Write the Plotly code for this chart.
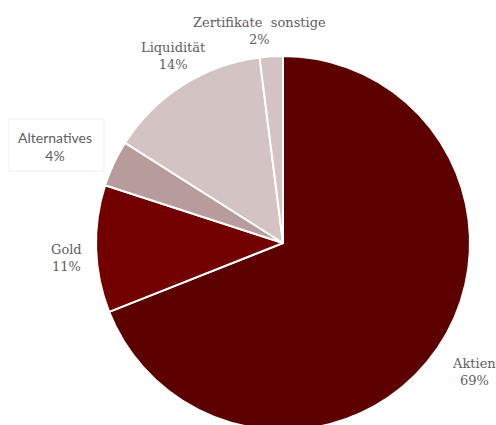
import plotly.graph_objects as go

# Asset allocation shares (percent)
categories = ["Aktien", "Gold", "Alternatives", "Liquidität", "Zertifikate  sonstige"]
shares = [69, 11, 4, 14, 2]
slice_colors = ["#5c0000", "#720000", "#b89b9b", "#d3c3c3", "#d3c3c3"]

W, H = 496, 440

fig = go.Figure(go.Pie(
    labels=categories,
    values=shares,
    sort=False,
    direction="clockwise",
    rotation=0,
    marker=dict(colors=slice_colors, line=dict(color="white", width=2)),
    textinfo="none",
    hoverinfo="label+percent",
    showlegend=False,
    domain=dict(x=[96 / W, 470 / W], y=[10 / H, (H - 56) / H]),
))

# label positions in pixels (center of text block)
label_pos = {
    "Aktien": (474, 372),
    "Gold": (66, 258),
    "Alternatives": (55, 146),
    "Liquidität": (173, 56),
    "Zertifikate  sonstige": (259, 31),
}
for name, val in zip(categories, shares):
    px, py = label_pos[name]
    if name == "Alternatives":
        fnt = dict(family="Lato", size=14, color="#606060")
    else:
        fnt = dict(family="DejaVu Serif", size=13, color="#606060")
    fig.add_annotation(
        x=px / W, y=(H - py) / H, xref="paper", yref="paper",
        text=f"{name}<br>{val}%", showarrow=False,
        xanchor="center", yanchor="middle", align="center",
        font=fnt,
    )

# faint frame around the Alternatives label
fig.add_shape(type="rect", xref="paper", yref="paper",
              x0=9 / W, x1=104 / W, y0=(H - 171) / H, y1=(H - 119) / H,
              line=dict(color="#f0f0f0", width=1), fillcolor="rgba(0,0,0,0)")

fig.update_layout(
    width=W, height=H,
    margin=dict(l=0, r=0, t=0, b=0),
    paper_bgcolor="white", plot_bgcolor="white",
)

fig.write_html(
    "out.html",
    post_script="document.documentElement.style.overflow='hidden';document.body.style.overflow='hidden';",
)
